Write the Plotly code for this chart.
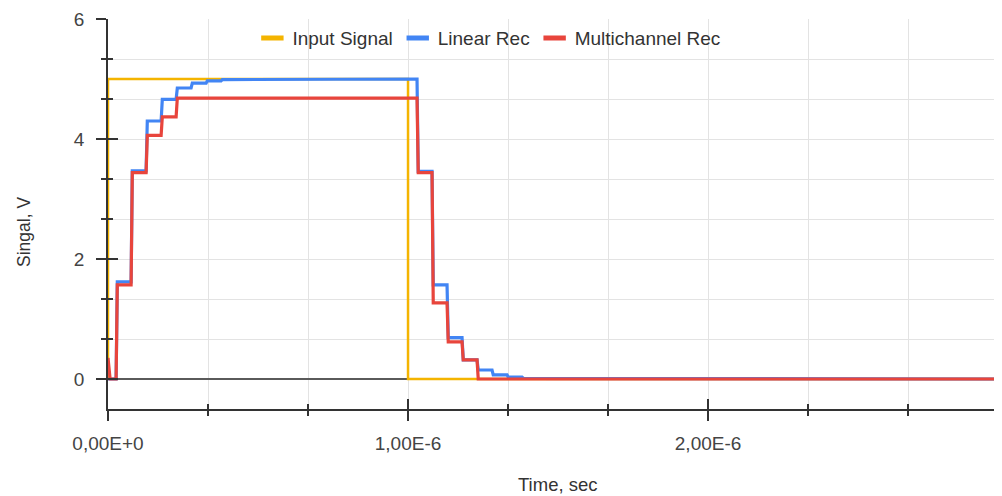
import plotly.graph_objects as go

# ---- data (time in microseconds, signal in volts) ----
input_edges = [0.0, 1.0]
input_levels = [0.0, 5.0, 0.0]

linear_edges = [0.027, 0.077, 0.127, 0.177, 0.227, 0.277, 0.327, 0.377, 0.43,
                1.03, 1.08, 1.13, 1.18, 1.23, 1.28, 1.33, 1.38, 1.43]
linear_levels = [0.0, 1.62, 3.47, 4.30, 4.66, 4.85, 4.93, 4.97, 4.99, 5.0,
                 3.46, 1.57, 0.69, 0.32, 0.15, 0.07, 0.03, 0.012, 0.0]

multi_start = 0.35
multi_edges = [0.027, 0.077, 0.127, 0.177, 0.227, 1.03, 1.08, 1.13, 1.18, 1.23]
multi_levels = [0.0, 1.57, 3.44, 4.06, 4.37, 4.68, 3.44, 1.27, 0.62, 0.32, 0.0]

series_names = ["Input Signal", "Linear Rec", "Multichannel Rec"]
series_colors = ["#F4B400", "#4285F4", "#E8453C"]

x_tick_vals = [0.0, 1e-6, 2e-6]
x_tick_text = ["0,00E+0", "1,00E-6", "2,00E-6"]
T_END = 2.973  # microseconds
RAMP = 0.004   # edge transition width (us)


def steps(edges, levels, start=None, ramp=RAMP):
    xs, ys = [], []
    if start is not None:
        xs.append(0.0); ys.append(start)
        xs.append(0.007); ys.append(levels[0])
    else:
        xs.append(0.0); ys.append(levels[0])
    for e, a, b in zip(edges, levels[:-1], levels[1:]):
        xs += [e, e + ramp]
        ys += [a, b]
    xs.append(T_END); ys.append(levels[-1])
    return [v * 1e-6 for v in xs], ys


curves = [
    steps(input_edges, input_levels, ramp=0.0),
    steps(linear_edges, linear_levels),
    steps(multi_edges, multi_levels, start=multi_start),
]
widths = [2.5, 3.2, 3.2]

FONT = "Liberation Sans, Arial, sans-serif"

fig = go.Figure()
for (xs, ys), name, color, w in zip(curves, series_names, series_colors, widths):
    fig.add_trace(go.Scatter(x=xs, y=ys, mode="lines", name=name, showlegend=False,
                             line=dict(color=color, width=w)))
# legend entries (short thick swatches)
for name, color in zip(series_names, series_colors):
    fig.add_trace(go.Scatter(x=[None], y=[None], mode="markers", name=name,
                             marker=dict(symbol="line-ew", size=18,
                                         line=dict(color=color, width=6))))
# helper so the overlaid tick axes are drawn (a single point: draws nothing)
fig.add_trace(go.Scatter(x=[0], y=[0], xaxis="x2", yaxis="y2", mode="lines",
                         line=dict(width=0), showlegend=False, hoverinfo="skip"))

xr = [0, T_END * 1e-6]
yr = [-0.5, 6]
grid = "#E3E3E3"
axc = "#333333"

fig.update_layout(
    width=994, height=488,
    margin=dict(l=100, r=2, t=11, b=87),
    paper_bgcolor="white", plot_bgcolor="white",
    font=dict(family=FONT, size=19, color="#444444"),
    showlegend=True,
    legend=dict(orientation="h", x=0.427, xanchor="center", y=0.951, yanchor="middle",
                bgcolor="rgba(0,0,0,0)", font=dict(size=19, color="#333333"),
                itemwidth=30, traceorder="normal"),
    xaxis=dict(range=xr, tickmode="array", tickvals=x_tick_vals, ticktext=x_tick_text,
               automargin=False,
               showgrid=False, zeroline=False, showline=True, linecolor=axc, linewidth=1.8,
               ticks="outside", ticklen=10, tickwidth=1.5, tickcolor=axc,
               minor=dict(dtick=1e-6 / 3, tick0=0, showgrid=True, gridcolor=grid, gridwidth=1,
                          ticks="outside", ticklen=5, tickwidth=1.5, tickcolor=axc),
               tickfont=dict(size=19, color="#444444"), ticklabelstandoff=6,
               layer="below traces"),
    yaxis=dict(range=yr, tickmode="linear", dtick=2, tick0=0, automargin=False,
               showgrid=True, gridcolor=grid, gridwidth=1,
               zeroline=True, zerolinecolor="#5A5A5A", zerolinewidth=1.5,
               showline=True, linecolor=axc, linewidth=1.8,
               ticks="outside", ticklen=10, tickwidth=1.5, tickcolor=axc,
               minor=dict(dtick=2 / 3, tick0=0, showgrid=True, gridcolor=grid, gridwidth=1,
                          ticks="outside", ticklen=5, tickwidth=1.5, tickcolor=axc),
               tickfont=dict(size=19, color="#444444"), ticklabelstandoff=8,
               layer="below traces"),
    xaxis2=dict(range=xr, overlaying="x", anchor="y", side="bottom", automargin=False,
                tickmode="array", tickvals=x_tick_vals, showticklabels=False,
                showgrid=False, zeroline=False, showline=False,
                ticks="inside", ticklen=10, tickwidth=1.5, tickcolor=axc,
                minor=dict(dtick=1e-6 / 3, tick0=0, ticks="inside", ticklen=5,
                           tickwidth=1.5, tickcolor=axc, showgrid=False)),
    yaxis2=dict(range=yr, overlaying="y", anchor="x", side="left", automargin=False,
                tickmode="linear", dtick=2, tick0=0, showticklabels=False,
                showgrid=False, zeroline=False, showline=False,
                ticks="inside", ticklen=10, tickwidth=1.5, tickcolor=axc,
                minor=dict(dtick=2 / 3, tick0=0, ticks="inside", ticklen=5,
                           tickwidth=1.5, tickcolor=axc, showgrid=False)),
    annotations=[
        dict(text="Time, sec", xref="paper", yref="paper", x=0.505, y=0,
             yshift=-75, xanchor="center", yanchor="middle", showarrow=False,
             font=dict(size=18.5, color="#333333")),
        dict(text="Singal, V", xref="paper", yref="paper", x=0, y=0.454,
             xshift=-84, xanchor="center", yanchor="middle", textangle=-90,
             showarrow=False, font=dict(size=17.5, color="#333333")),
    ],
)

fig.write_html("out.html")
